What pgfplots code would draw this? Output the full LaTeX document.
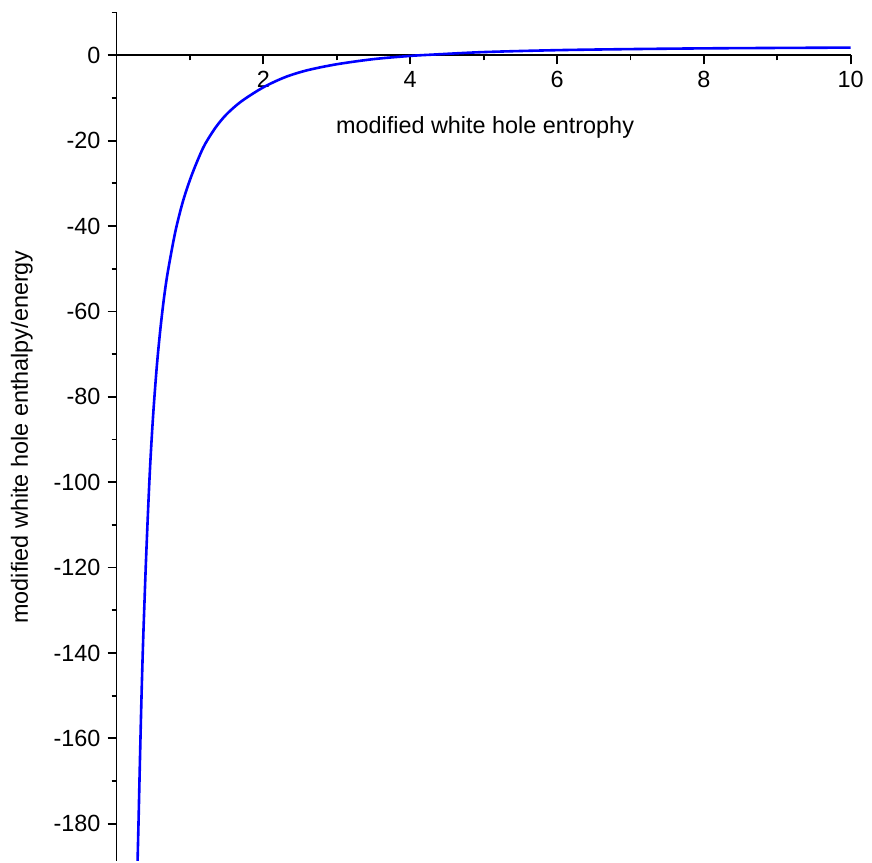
\documentclass[border=0pt]{standalone}
\usepackage{fontspec}
\setmainfont{Liberation Sans}
\usepackage{pgfplots}
\pgfplotsset{compat=1.18}

\begin{document}
\begin{tikzpicture}[font=\fontsize{11.7}{14}\selectfont]
  \begin{axis}[
      scale only axis,
      width=367.1pt,
      height=424.25pt,
      xmin=0, xmax=10,
      ymin=-188.7, ymax=10.05,
      axis lines=middle,
      axis line style={-, line width=0.9pt, black},
      hide obscured x ticks=false,
      hide obscured y ticks=false,
      xtick={2,4,6,8,10},
      ytick={-180,-160,...,0},
      minor xtick={1,3,5,7,9},
      minor ytick={-170,-150,...,10},
      tick align=outside,
      major tick length=4.5pt,
      minor tick length=2.5pt,
      every tick/.style={black, line width=0.9pt},
      /pgf/number format/assume math mode=true,
      ticklabel style={font=\fontsize{11.7}{14}\selectfont},
      clip=false,
      xlabel={modified white hole entrophy},
      ylabel={modified white hole enthalpy/energy},
      every axis x label/.style={at={(axis cs:5.02,-16.8)}, anchor=center},
      every axis y label/.style={at={(axis cs:-1.29,-89.4)}, anchor=center, rotate=90},
  ]
  % invisible frame to keep the reference margins
  \path (axis cs:-1.587,12.95) rectangle (axis cs:10.29,-188.7);

  \addplot[color=blue, line width=1.3pt, smooth, restrict y to domain=-200:20] coordinates {
      (0.287,-188.7) (0.30,-179.5) (0.32,-164.5) (0.34,-150.5) (0.36,-138.5)
      (0.38,-128.5) (0.40,-119) (0.43,-106.5) (0.46,-95.5) (0.50,-84)
      (0.55,-72.6) (0.60,-63.7) (0.65,-56.4) (0.70,-50.6) (0.80,-41.4)
      (0.90,-34.5) (1.00,-29.2) (1.10,-24.8) (1.20,-21.0) (1.35,-16.9)
      (1.50,-13.8) (1.70,-10.8) (2.00,-7.5) (2.30,-5.1) (2.60,-3.5)
      (3.00,-2.1) (3.50,-0.9) (4.00,-0.15) (4.30,0.15) (5.00,0.75)
      (6.00,1.2) (7.00,1.45) (8.00,1.62) (9.00,1.72) (10.0,1.8)
  };
  \end{axis}
\end{tikzpicture}
\end{document}
